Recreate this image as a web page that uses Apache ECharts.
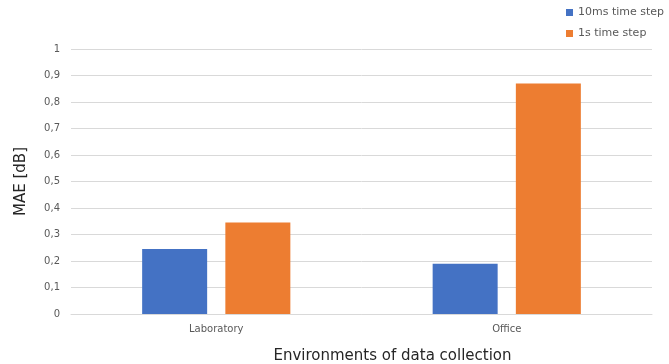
<!DOCTYPE html>
<html>
<head>
<meta charset="utf-8">
<script src="https://cdn.jsdelivr.net/npm/echarts@6/dist/echarts.min.js"></script>
<style>
  html, body { margin: 0; padding: 0; background: #fff; }
  #chart { width: 669px; height: 364px; }
</style>
</head>
<body>
<div id="chart"></div>
<script>
// Environments and MAE values per time step
const categories = ['Laboratory', 'Office'];
const seriesNames = ['10ms time step', '1s time step'];
const mae10ms = [0.245, 0.19];
const mae1s = [0.345, 0.87];
const yTicks = [0, 0.1, 0.2, 0.3, 0.4, 0.5, 0.6, 0.7, 0.8, 0.9, 1];

const font = '"DejaVu Sans", sans-serif';
const chart = echarts.init(document.getElementById('chart'), null, { renderer: 'canvas' });

chart.setOption({
  animation: false,
  textStyle: { fontFamily: font },
  color: ['#4472C4', '#ED7D31'],
  legend: {
    orient: 'vertical',
    left: 561,
    top: 2,
    itemWidth: 7,
    itemHeight: 7,
    itemGap: 10,
    icon: 'rect',
    textStyle: { fontSize: 11, color: '#595959', fontFamily: font },
    data: seriesNames
  },
  grid: { left: 71, right: 17, top: 49, bottom: 50, containLabel: false, outerBoundsMode: 'none' },
  xAxis: {
    type: 'category',
    data: categories,
    axisLine: { lineStyle: { color: '#d9d9d9' } },
    axisTick: { show: false },
    axisLabel: { color: '#595959', fontSize: 10, margin: 10, fontFamily: font },
    name: 'Environments of data collection',
    nameLocation: 'middle',
    nameGap: 35,
    nameTextStyle: { fontSize: 15, color: '#262626', fontFamily: font, padding: [0, 0, 0, 62] }
  },
  yAxis: {
    type: 'value',
    min: 0,
    max: 1,
    interval: 0.1,
    axisLine: { show: false },
    axisTick: { show: false },
    splitLine: { lineStyle: { color: '#d9d9d9' } },
    axisLabel: {
      color: '#595959',
      fontSize: 10,
      margin: 11,
      fontFamily: font,
      formatter: v => {
        const t = yTicks.find(x => Math.abs(x - v) < 1e-9);
        return String(t !== undefined ? t : v).replace('.', ',');
      }
    },
    name: 'MAE [dB]',
    nameLocation: 'middle',
    nameRotate: 90,
    nameGap: 42,
    nameTextStyle: { fontSize: 15, color: '#262626', fontFamily: font }
  },
  series: [
    { name: seriesNames[0], type: 'bar', data: mae10ms, barWidth: 65, barGap: '28%' },
    { name: seriesNames[1], type: 'bar', data: mae1s, barWidth: 65, barGap: '28%' }
  ]
});
</script>
</body>
</html>
